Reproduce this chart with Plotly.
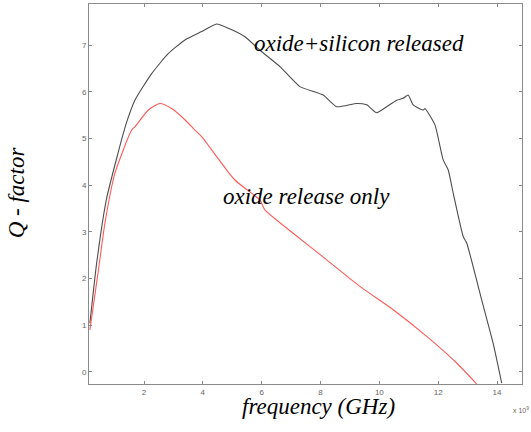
import plotly.graph_objects as go

# Data (frequency in units of 1e9 Hz)
freq_silicon = [0.16, 0.39, 0.73, 1.13, 1.24, 1.41, 1.69, 2.26, 2.83, 3.39, 3.96, 4.47, 4.87,
                5.43, 5.94, 6.62, 7.30, 8.09, 8.55, 9.23, 9.57, 9.91, 10.25, 10.59, 10.81,
                10.98, 11.15, 11.49, 11.55, 11.89, 12.17, 12.34, 12.51, 12.85, 12.97, 13.48,
                13.87, 14.16]
q_silicon = [1.04, 2.33, 3.72, 4.72, 4.98, 5.35, 5.82, 6.39, 6.82, 7.11, 7.29, 7.45, 7.36,
             7.18, 6.89, 6.54, 6.11, 5.93, 5.68, 5.75, 5.72, 5.55, 5.68, 5.82, 5.86,
             5.93, 5.72, 5.61, 5.64, 5.29, 4.54, 4.33, 3.83, 2.90, 2.76, 1.54,
             0.61, -0.24]

freq_oxide = [0.16, 0.45, 0.67, 1.01, 1.58, 1.69, 2.15, 2.54, 2.94, 3.39, 3.73, 3.96, 5.09,
              5.94, 6.11, 7.07, 8.21, 9.34, 10.47, 11.61, 12.63, 13.31]
q_oxide = [0.90, 2.18, 3.18, 4.25, 5.18, 5.25, 5.61, 5.75, 5.64, 5.40, 5.18, 5.04, 4.11,
           3.68, 3.47, 2.97, 2.40, 1.83, 1.33, 0.76, 0.19, -0.26]

x_ticks = [2, 4, 6, 8, 10, 12, 14]
y_ticks = [0, 1, 2, 3, 4, 5, 6, 7]

serif = "Liberation Serif, Times New Roman, serif"

fig = go.Figure()
fig.add_trace(go.Scatter(x=freq_silicon, y=q_silicon, mode="lines",
                         line=dict(color="#4d4d4d", width=1.1, shape="spline", smoothing=0.5),
                         showlegend=False))
fig.add_trace(go.Scatter(x=freq_oxide, y=q_oxide, mode="lines",
                         line=dict(color="#ff5a5a", width=1.1, shape="spline", smoothing=0.6),
                         showlegend=False))

axis_common = dict(showline=True, linecolor="#8a8a8a", linewidth=1, mirror="ticks",
                   ticks="inside", ticklen=3, tickcolor="#8a8a8a", showgrid=False,
                   zeroline=False, tickfont=dict(size=8, color="#666666",
                                                 family="Liberation Sans, Arial"))

fig.update_layout(
    width=531, height=432,
    margin=dict(l=89, r=9, t=4, b=48),
    paper_bgcolor="white", plot_bgcolor="white",
    xaxis=dict(range=[0.13, 14.85], tickvals=x_ticks, ticktext=[str(v) for v in x_ticks],
               **axis_common),
    yaxis=dict(range=[-0.26, 7.88], tickvals=y_ticks, ticktext=[str(v) for v in y_ticks],
               **axis_common),
    annotations=[
        dict(text="<i>oxide+silicon released</i>", x=9.31, y=7.04, xref="x", yref="y",
             xanchor="center", yanchor="middle",
             showarrow=False, font=dict(family=serif, size=23, color="black")),
        dict(text="<i>oxide release only</i>", x=7.51, y=3.75, xref="x", yref="y",
             xanchor="center", yanchor="middle",
             showarrow=False, font=dict(family=serif, size=23, color="black")),
        dict(text="<i>frequency (GHz)</i>", x=0.529, y=-0.058, xref="paper", yref="paper",
             xanchor="center", yanchor="middle",
             showarrow=False, font=dict(family=serif, size=23, color="black")),
        dict(text="<i>Q - factor</i>", x=-0.168, y=0.505, xref="paper", yref="paper",
             xanchor="center", yanchor="middle",
             textangle=-90, showarrow=False, font=dict(family=serif, size=23, color="black")),
        dict(text="x 10<sup>9</sup>", x=1.02, y=-0.068, xref="paper", yref="paper",
             xanchor="right", yanchor="middle", showarrow=False,
             font=dict(family="Liberation Sans, Arial", size=7, color="#666666")),
    ],
)

fig.write_html("out.html", config={"displayModeBar": False},
               post_script="document.body.style.margin='0px';")
